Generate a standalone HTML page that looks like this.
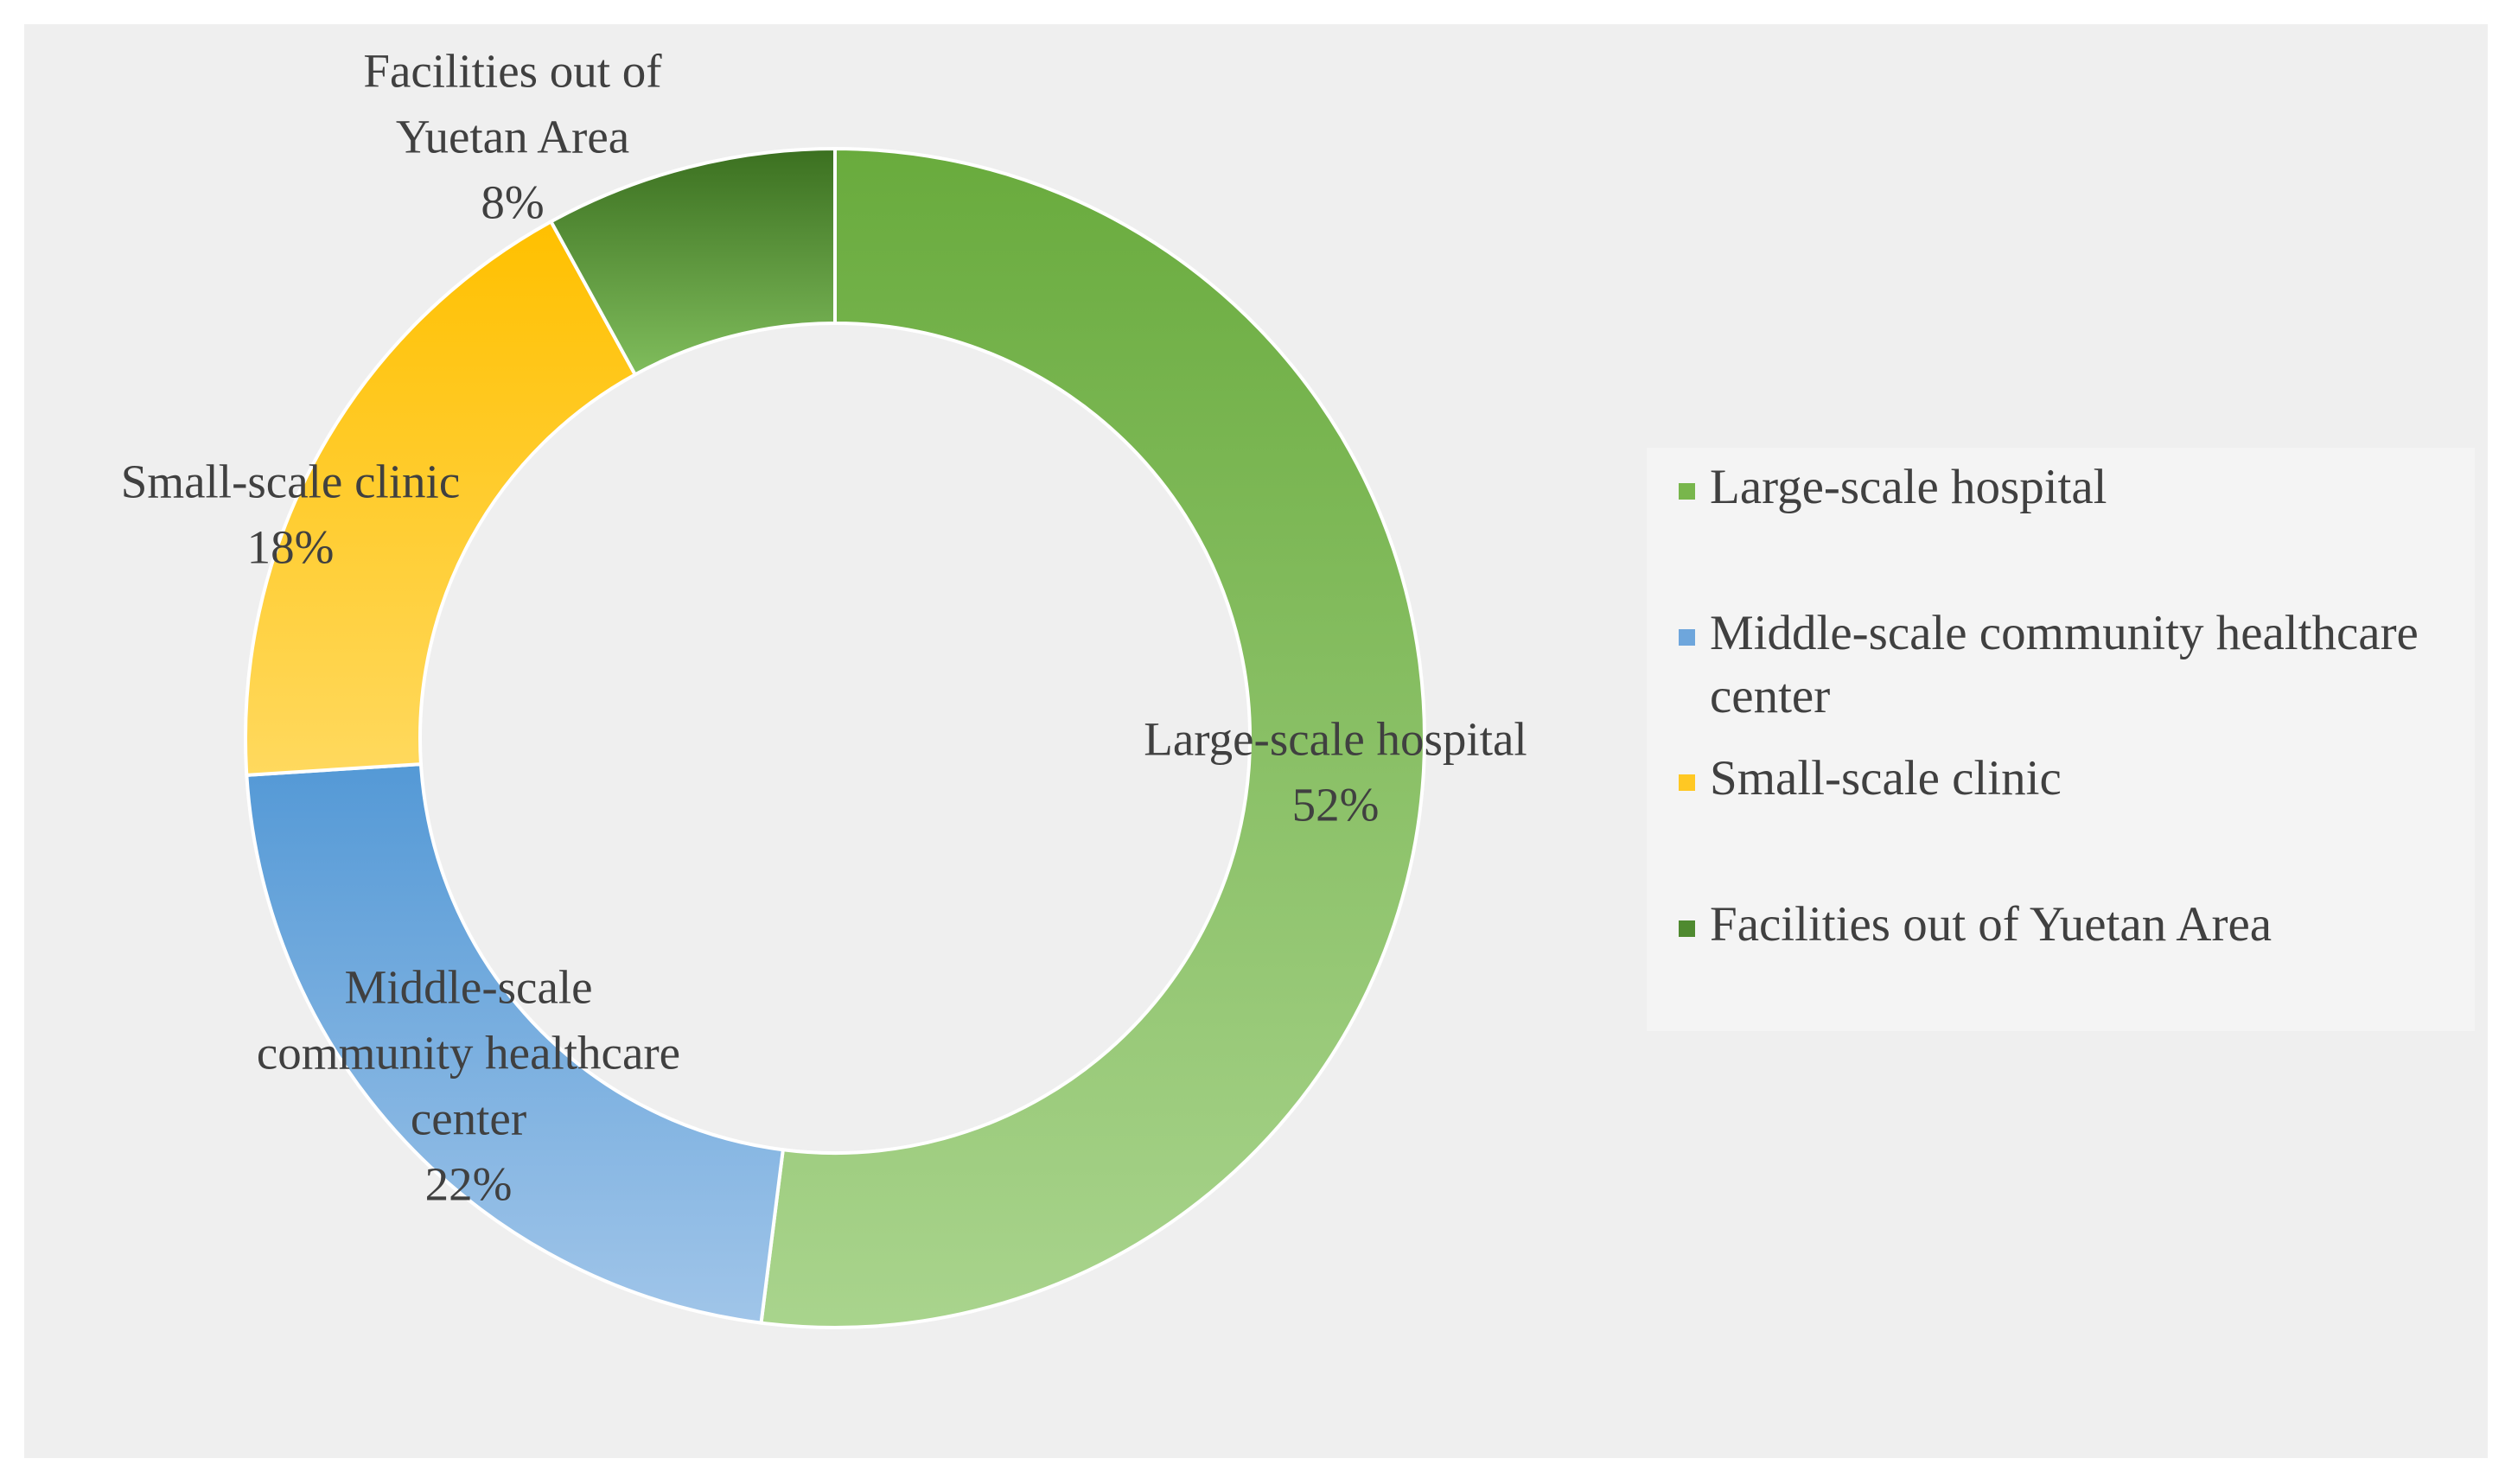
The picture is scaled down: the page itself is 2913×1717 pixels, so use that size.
<!DOCTYPE html>
<html><head><meta charset="utf-8"><style>
html,body{margin:0;padding:0;background:#fff;}
svg{display:block;}
text{font-family:"Liberation Serif",serif;fill:#404040;}
</style></head><body>
<svg id="chart" width="2913" height="1717" viewBox="0 0 2913 1717">
<defs>
<linearGradient id="g0" x1="0" y1="0" x2="0" y2="1"><stop offset="0" stop-color="#69ab3d"/><stop offset="1" stop-color="#a9d48d"/></linearGradient>
<linearGradient id="g1" x1="0" y1="0" x2="0" y2="1"><stop offset="0" stop-color="#5499d6"/><stop offset="1" stop-color="#a0c5e9"/></linearGradient>
<linearGradient id="g2" x1="0" y1="0" x2="0" y2="1"><stop offset="0" stop-color="#ffc000"/><stop offset="1" stop-color="#ffd95e"/></linearGradient>
<linearGradient id="g3" x1="0" y1="0" x2="0" y2="1"><stop offset="0" stop-color="#3b7020"/><stop offset="1" stop-color="#80bd5c"/></linearGradient>
</defs>
<rect x="28" y="28" width="2850" height="1659" fill="#efefef"/>
<rect x="1905" y="518" width="958" height="675" fill="#f4f4f4"/>
<g id="slices"></g>
<g id="labels"></g>
<g id="legend"></g>
</svg>
<script>
const categories = ["Large-scale hospital","Middle-scale community healthcare center","Small-scale clinic","Facilities out of Yuetan Area"];
const values = [52, 22, 18, 8];
const valueLabels = ["52%","22%","18%","8%"];
const labelLines = [["Large-scale hospital"],["Middle-scale","community healthcare","center"],["Small-scale clinic"],["Facilities out of","Yuetan Area"]];
const legendLines = [["Large-scale hospital"],["Middle-scale community healthcare","center"],["Small-scale clinic"],["Facilities out of Yuetan Area"]];
const fills = ["url(#g0)","url(#g1)","url(#g2)","url(#g3)"];
const swatch = ["#78b64c","#6ea6dc","#ffc823","#4f8a30"];

const NS = "http://www.w3.org/2000/svg";
const cx = 966, cy = 854, R = 682, r = 480;
const total = values.reduce((a,b)=>a+b,0);
function pt(a, rad){ return [cx + rad*Math.sin(a), cy - rad*Math.cos(a)]; }
function angle(v){ return v/total*2*Math.PI; }

const gS = document.getElementById('slices');
const gL = document.getElementById('labels');
const gLeg = document.getElementById('legend');
let acc = 0;
values.forEach((v,i)=>{
  const a0 = angle(acc), a1 = angle(acc+v);
  const large = (a1-a0) > Math.PI ? 1 : 0;
  const p0 = pt(a0,R), p1 = pt(a1,R), q1 = pt(a1,r), q0 = pt(a0,r);
  const p = document.createElementNS(NS,'path');
  p.setAttribute('d',`M${p0[0]},${p0[1]} A${R},${R} 0 ${large} 1 ${p1[0]},${p1[1]} L${q1[0]},${q1[1]} A${r},${r} 0 ${large} 0 ${q0[0]},${q0[1]} Z`);
  p.setAttribute('fill',fills[i]);
  p.setAttribute('stroke','#ffffff');
  p.setAttribute('stroke-width','4');
  
  
  gS.appendChild(p);
  acc += v;
});

const labelPos = [[1545,861],[542,1148],[336,563],[593,88]];
labelPos.forEach((pos,i)=>{
  const lines = labelLines[i].concat([valueLabels[i]]);
  lines.forEach((ln,j)=>{
    const t = document.createElementNS(NS,'text');
    t.setAttribute('x',pos[0]);
    t.setAttribute('y',pos[1] + j*76);
    t.setAttribute('text-anchor','middle');
    t.setAttribute('dominant-baseline','middle');
    t.setAttribute('font-size','55');
    t.textContent = ln;
    
    
    gL.appendChild(t);
  });
});

const legendY = [569,738,906,1075];
categories.forEach((c,i)=>{
  const s = document.createElementNS(NS,'rect');
  s.setAttribute('x',1942); s.setAttribute('y',legendY[i]-10);
  s.setAttribute('width',19); s.setAttribute('height',19);
  s.setAttribute('fill',swatch[i]);
  
  
  gLeg.appendChild(s);
  legendLines[i].forEach((ln,j)=>{
    const t = document.createElementNS(NS,'text');
    t.setAttribute('x',1978);
    t.setAttribute('y',legendY[i] + j*73);
    t.setAttribute('dominant-baseline','middle');
    t.setAttribute('font-size','57');
    t.textContent = ln;
    
    
    gLeg.appendChild(t);
  });
});
</script>
</body></html>
